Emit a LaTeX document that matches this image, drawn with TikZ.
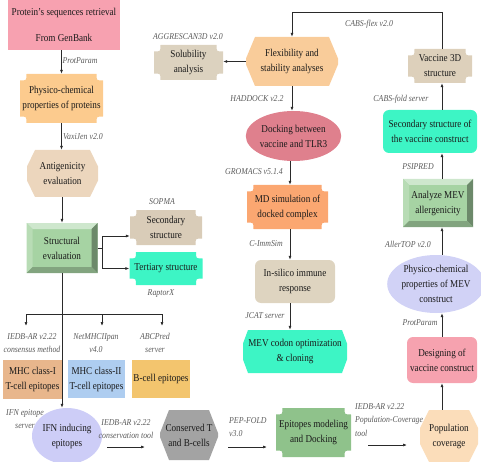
\documentclass[tikz,border=0pt]{standalone}
\usepackage{fontspec}
\setmainfont{Liberation Serif}[FakeStretch=0.87]
\usetikzlibrary{calc,shapes.geometric,arrows.meta}
\definecolor{cPink}{HTML}{F7A1B0}
\definecolor{cOrL}{HTML}{FCCB8E}
\definecolor{cTanA}{HTML}{ECD6BD}
\definecolor{cGreen}{HTML}{A6D3A3}
\definecolor{cTanS}{HTML}{D9CCB8}
\definecolor{cAqua}{HTML}{3DF5C5}
\definecolor{cMhcA}{HTML}{E8B68C}
\definecolor{cMhcB}{HTML}{AECDF0}
\definecolor{cBcell}{HTML}{F3C56E}
\definecolor{cIfn}{HTML}{CDCDF7}
\definecolor{cGray}{HTML}{A3A3A3}
\definecolor{cEpi}{HTML}{8FC28B}
\definecolor{cPop}{HTML}{FBDDBA}
\definecolor{cDesign}{HTML}{F6A2AF}
\definecolor{cMev}{HTML}{D1D2F6}
\definecolor{cTanV}{HTML}{DDD0BB}
\definecolor{cFlex}{HTML}{F9CC9A}
\definecolor{cSol}{HTML}{DCD2BF}
\definecolor{cDock}{HTML}{DF808D}
\definecolor{cMd}{HTML}{FBA771}
\definecolor{cIns}{HTML}{DED4C0}
\definecolor{labgray}{HTML}{5A5A5A}
\definecolor{linegray}{HTML}{2A2A2A}
\definecolor{txt}{HTML}{1A1A1A}
\tikzset{
  box/.style={align=center, inner sep=0pt, text=txt, font=\fontsize{10.5}{15}\selectfont},
  sz/.style 2 args={minimum width=#1pt, minimum height=#2pt},
  lab/.style={font=\fontsize{9}{13.5}\selectfont\itshape, text=labgray, inner sep=0pt, align=center},
  arr/.style={draw=linegray, line width=0.7pt, -{Latex[length=4pt,width=3pt]}},
  ln/.style={draw=linegray, line width=0.7pt},
  plainbox/.style={box, fill=#1},
  rbox/.style={box, fill=#1, rounded corners=6pt},
  ebox/.style={box, ellipse, fill=#1},
  plaque/.style={box, fill=white, path picture={
    \fill[#1] let \p1=(path picture bounding box.south west), \p2=(path picture bounding box.north east) in
      (\x1+6.5pt,\y1) -- (\x2-6.5pt,\y1) .. controls (\x2-6.5pt,\y1+6.5pt) .. (\x2,\y1+6.5pt)
      -- (\x2,\y2-6.5pt) .. controls (\x2-6.5pt,\y2-6.5pt) .. (\x2-6.5pt,\y2)
      -- (\x1+6.5pt,\y2) .. controls (\x1+6.5pt,\y2-6.5pt) .. (\x1,\y2-6.5pt)
      -- (\x1,\y1+6.5pt) .. controls (\x1+6.5pt,\y1+6.5pt) .. (\x1+6.5pt,\y1) -- cycle;}},
  octo/.style n args={3}{box, fill=white, path picture={
    \fill[#1] let \p1=(path picture bounding box.south west), \p2=(path picture bounding box.north east) in
      (\x1+#2,\y1) -- (\x2-#2,\y1) -- (\x2,{(\y1+\y2)/2-#3}) -- (\x2,{(\y1+\y2)/2+#3})
      -- (\x2-#2,\y2) -- (\x1+#2,\y2) -- (\x1,{(\y1+\y2)/2+#3}) -- (\x1,{(\y1+\y2)/2-#3}) -- cycle;}},
  bevel/.style={box, fill=white, path picture={
    \fill[#1] (path picture bounding box.south west) rectangle (path picture bounding box.north east);
    \fill[#1!55!white] let \p1=(path picture bounding box.south west), \p2=(path picture bounding box.north east) in
      (\x1,\y2) -- (\x2,\y2) -- (\x2-6pt,\y2-6pt) -- (\x1+6pt,\y2-6pt) -- cycle;
    \fill[#1!80!white] let \p1=(path picture bounding box.south west), \p2=(path picture bounding box.north east) in
      (\x1,\y1) -- (\x1,\y2) -- (\x1+6pt,\y2-6pt) -- (\x1+6pt,\y1+6pt) -- cycle;
    \fill[#1!65!black] let \p1=(path picture bounding box.south west), \p2=(path picture bounding box.north east) in
      (\x2,\y1) -- (\x2,\y2) -- (\x2-6pt,\y2-6pt) -- (\x2-6pt,\y1+6pt) -- cycle;
    \fill[#1!78!black] let \p1=(path picture bounding box.south west), \p2=(path picture bounding box.north east) in
      (\x1,\y1) -- (\x2,\y1) -- (\x2-6pt,\y1+6pt) -- (\x1+6pt,\y1+6pt) -- cycle;}}
}
\begin{document}
\begin{tikzpicture}[x=1pt,y=1pt]
\useasboundingbox (0,0) rectangle (481,-462);
% ---- left column
\node[plainbox=cPink, sz={112}{50}] (gen) at (64,-25) {Protein's sequences retrieval\\[11pt]From GenBank};
\node[plaque=cOrL, sz={83}{49}] (phys) at (61.5,-98.5) {Physico-chemical\\properties of proteins};
\node[octo={cTanA}{8pt}{7pt}, sz={71}{47}] (antig) at (62.5,-173.5) {Antigenicity\\evaluation};
\node[bevel=cGreen, sz={71}{50}] (struct) at (62,-248) {Structural\\evaluation};
\node[plaque=cTanS, sz={72}{35}] (sec) at (166,-227.5) {Secondary\\structure};
\node[plaque=cAqua, sz={73}{33}] (tert) at (166,-268.5) {Tertiary structure};
\node[plainbox=cMhcA, sz={59}{39}] (mhc1) at (32.5,-379) {MHC class-I\\T-cell epitopes};
\node[plainbox=cMhcB, sz={57}{38}] (mhc2) at (96.5,-379) {MHC class-II\\T-cell epitopes};
\node[plainbox=cBcell, sz={58}{38}] (bcell) at (161,-379) {B-cell epitopes};
\node[ebox=cIfn, sz={70}{56}] (ifn) at (67,-436) {IFN inducing\\epitopes};
% ---- bottom row
\node[octo={cGray}{9pt}{2pt}, sz={58}{50}] (cons) at (189,-435) {Conserved T\\and B-cells};
\node[plaque=cEpi, sz={75}{49}] (epi) at (313.5,-432.5) {Epitopes modeling\\and Docking};
\node[octo={cPop}{9pt}{8pt}, sz={58}{52}] (pop) at (449,-436) {Population\\coverage};
% ---- right column
\node[rbox=cDesign, sz={70}{46}] (design) at (442,-360) {Designing of\\vaccine construct};
\node[ebox=cMev, sz={84}{58}] (mev) at (436,-284) {Physico-chemical\\properties of MEV\\construct};
\node[bevel=cGreen, sz={70}{48}] (analyze) at (438,-203) {Analyze MEV\\allergenicity};
\node[rbox=cAqua, sz={94}{43}] (secvac) at (430,-131.5) {Secondary structure of\\the vaccine construct};
\node[plaque=cTanV, sz={64}{34}] (vac3d) at (440,-66) {Vaccine 3D\\structure};
% ---- middle column
\node[octo={cFlex}{9pt}{3pt}, sz={92}{49}] (flex) at (292,-61.5) {Flexibility and\\stability analyses};
\node[plaque=cSol, sz={69}{35}] (sol) at (188.5,-62.5) {Solubility\\analysis};
\node[ebox=cDock, sz={80}{50}] (dock) at (293.5,-136) {Docking between\\vaccine and TLR3};
\node[plaque=cMd, sz={81}{44}] (md) at (287.5,-207) {MD simulation of\\docked complex};
\node[rbox=cIns, sz={80}{43}] (insil) at (295,-281.5) {In-silico immune\\response};
\node[octo={cAqua}{5pt}{8pt}, sz={104}{43}] (codon) at (295,-351.5) {MEV codon optimization\\\& cloning};
% ---- labels
\node[lab] (lProt1) at (80,-61) {ProtParam};
\node[lab] (lVax) at (83,-137) {VaxiJen v2.0};
\node[lab] (lSop) at (162,-202) {SOPMA};
\node[lab] (lRap) at (161,-294) {RaptorX};
\node[lab] (lIedbA) at (32,-343) {IEDB-AR v2.22\\consensus method};
\node[lab] (lNet) at (96,-343) {NetMHCIIpan\\v4.0};
\node[lab] (lAbc) at (155,-343) {ABCPred\\server};
\node[lab] (lIfn) at (25,-419) {IFN epitope\\server};
\node[lab] (lCons) at (126,-429) {IEDB-AR v2.22\\conservation tool};
\node[lab, align=left, anchor=west] (lPep) at (229,-427) {PEP-FOLD\\v3.0};
\node[lab, align=left, anchor=west] (lPop) at (355,-420) {IEDB-AR v2.22\\Population-Coverage\\tool};
\node[lab] (lProt2) at (420,-323) {ProtParam};
\node[lab] (lAller) at (408,-244) {AllerTOP v2.0};
\node[lab] (lPsi) at (418,-167) {PSIPRED};
\node[lab] (lCabsF) at (401,-99) {CABS-fold server};
\node[lab] (lCabsX) at (369,-24) {CABS-flex v2.0};
\node[lab] (lAgg) at (188,-37) {AGGRESCAN3D v2.0};
\node[lab] (lHad) at (257,-99) {HADDOCK v2.2};
\node[lab] (lGro) at (254,-172) {GROMACS v5.1.4};
\node[lab] (lImm) at (266,-244) {C-ImmSim};
\node[lab] (lJcat) at (265,-316) {JCAT server};
% ---- helper coordinates
\coordinate (br) at (102,-248);
\coordinate (bj) at (62,-314);
\coordinate (bA) at (26,-326);
\coordinate (bB) at (102,-326);
\coordinate (bC) at (162,-326);
\coordinate (a1s) at (107,-447);
\coordinate (a1e) at (145,-447);
\coordinate (a2s) at (228,-447);
\coordinate (a2e) at (267,-447);
\coordinate (a3s) at (368,-445);
\coordinate (a3e) at (407,-445);
\coordinate (rc) at (442,0);
\coordinate (mc) at (290,0);
\coordinate (topy) at (0,-12);
% ---- connectors
\draw[arr] (gen.south -| phys.north) -- (phys.north);
\draw[arr] (phys.south) -- (phys.south |- antig.north);
\draw[arr] (antig.south -| struct.north) -- (struct.north);
\draw[ln] (struct.east) -- (br);
\draw[arr] (br) |- ([yshift=-8.5pt]sec.west);
\draw[arr] (br) |- (tert.west);
\draw[arr] (struct.south) -- (struct.south |- ifn.north);
\draw[arr] (bj) -| (bA);
\draw[arr] (bj) -| (bC);
\draw[arr] (bB |- bj) -- (bB);
\draw[arr] (a1s) -- (a1e);
\draw[arr] (a2s) -- (a2e);
\draw[arr] (a3s) -- (a3e);
\draw[arr] (pop.north -| rc) -- (design.south -| rc);
\draw[arr] (design.north -| rc) -- (mev.south -| rc);
\draw[arr] (mev.north -| rc) -- (analyze.south -| rc);
\draw[arr] (analyze.north -| rc) -- (secvac.south -| rc);
\draw[arr] (secvac.north -| rc) -- (vac3d.south -| rc);
\draw[arr] (vac3d.north -| rc) -- (rc |- topy) -| (flex.north);
\draw[arr] (flex.west) -- (flex.west -| sol.east);
\draw[arr] (flex.south) -- (flex.south |- dock.north);
\draw[arr] (dock.south -| mc) -- (md.north -| mc);
\draw[arr] (md.south -| mc) -- (insil.north -| mc);
\draw[arr] (insil.south -| mc) -- (codon.north -| mc);
\end{tikzpicture}
\end{document}
